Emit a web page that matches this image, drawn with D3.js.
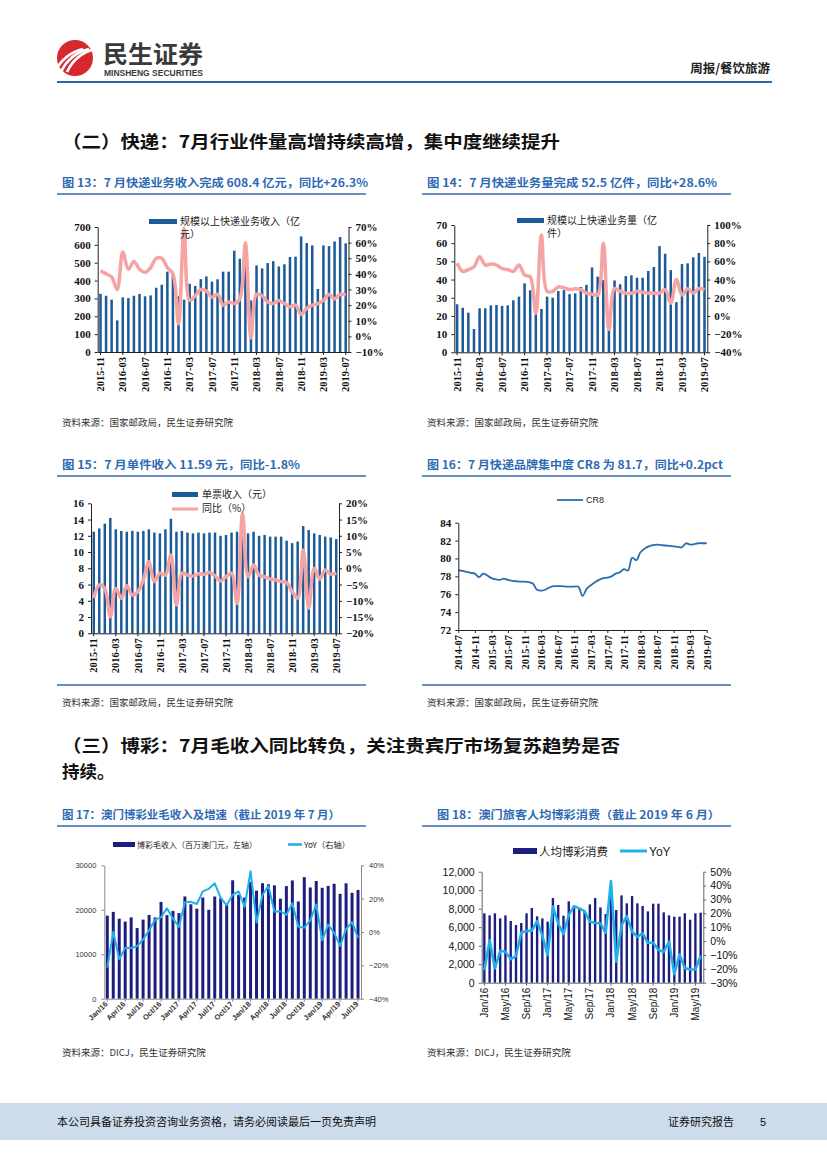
<!DOCTYPE html>
<html>
<head>
<meta charset="utf-8">
<script src="https://d3js.org/d3.v7.min.js"></script>
<style>
  body { margin: 0; background: #fff; }
  svg { display: block; }
</style>
</head>
<body>
<svg id="page" width="827" height="1169"></svg>
<script>
// ---------- data ----------
function monthList(y, m, n, fmt) {
  return d3.timeMonth.range(new Date(y, m - 1, 1), new Date(y, m - 1 + n, 1)).map(d3.timeFormat(fmt));
}
const expressMonths = monthList(2015, 11, 45, "%Y-%m");      // 2015-11 .. 2019-07
const cr8Months = monthList(2014, 7, 61, "%Y-%m");           // 2014-07 .. 2019-07
const ggrMonths = monthList(2016, 1, 43, "%b/%y");           // Jan/16 .. Jul/19
const spendMonths = monthList(2016, 1, 42, "%b/%y");         // Jan/16 .. Jun/19

// 图13 快递业务收入（亿元）及同比（%）
const revenue = [326, 315,
  293, 177, 306, 302, 315, 325, 312, 317, 360, 377, 450, 440,
  312, 293, 382, 370, 408, 423, 394, 407, 450, 450, 567, 522,
  500, 289, 485, 468, 498, 509, 479, 491, 532, 534, 647, 610,
  597, 353, 597, 593, 619, 644, 608.4];
const revenueYoy = [42, 40,
  38, 30, 54, 43, 48, 43, 41, 44, 50, 50, 44, 40,
  8, 69, 23, 26, 30, 29, 25, 27, 20, 22, 21, 24,
  60, -1, 27, 26, 22, 21, 23, 21, 19, 20, 14, 18,
  20, 21, 23, 27, 24, 27, 26.3];

// 图14 快递业务量（亿件）及同比（%）
const volume = [26.4, 24.5,
  21.8, 12.8, 24.2, 24.2, 25.8, 26.0, 25.5, 25.8, 28.6, 30.6, 37.9, 34.1,
  21.0, 23.8, 30.6, 30.0, 33.7, 34.2, 32.0, 32.4, 35.9, 37.1, 46.7, 41.6,
  39.7, 20.2, 39.5, 37.4, 41.9, 42.3, 41.0, 41.0, 44.7, 46.9, 58.4, 54.2,
  45.2, 27.6, 48.5, 48.9, 52.2, 54.6, 52.5];
const volumeYoy = [58, 49,
  51, 54, 65, 56, 57, 56, 52, 51, 49, 56, 45, 43,
  3, 89, 27, 27, 32, 31, 29, 30, 29, 25, 24, 23,
  80, -15, 30, 27, 25, 25, 27, 26, 25, 25, 25, 29,
  14, 40, 23, 30, 25, 30, 28.6];

// 图15 单票收入（元）及同比（%）
const unitRev = [12.5, 12.9,
  13.5, 14.2, 12.8, 12.6, 12.5, 12.6, 12.5, 12.6, 12.8, 12.4, 12.3, 12.8,
  14.1, 12.5, 12.6, 12.4, 12.3, 12.4, 12.3, 12.4, 12.4, 12.0, 12.1, 12.4,
  12.5, 14.3, 12.3, 12.5, 12.0, 12.1, 11.9, 11.9, 11.9, 11.4, 11.1, 11.3,
  13.2, 12.7, 12.3, 12.1, 11.9, 11.8, 11.59];
const unitRevYoy = [-9.2, -5.1,
  -6.2, -14.9, -6.2, -9.2, -5.4, -8.2, -7.2, -3.6, 2.0, -4.1, -1.5, -2.1,
  4.1, -11.3, -1.5, -2.1, -2.4, -1.7, -1.8, -1.3, -2.3, -3.9, -2.6, -1.5,
  -10.8, 16.9, -2.6, 1.0, -2.1, -2.6, -3.3, -3.6, -4.1, -4.4, -7.2, -9.2,
  5.6, -12.3, 0.0, -3.3, -0.5, -1.8, -1.5];

// 图16 CR8
const cr8 = [78.7, 78.6, 78.5, 78.4, 78.3, 77.9, 78.3, 78.1, 77.8, 77.65, 77.6, 77.75,
  77.6, 77.5, 77.45, 77.4, 77.4, 77.35, 77.2, 76.5, 76.4, 76.5, 76.75, 76.9,
  76.9, 76.9, 76.85, 76.85, 76.85, 76.85, 75.8, 76.6, 77.0, 77.35, 77.6, 77.8,
  77.85, 78.0, 78.3, 78.45, 78.8, 78.65, 80.1, 79.8, 80.7, 81.1, 81.35, 81.5,
  81.55, 81.5, 81.45, 81.4, 81.35, 81.3, 81.25, 81.7, 81.55, 81.6, 81.7, 81.7, 81.7];

// 图17 澳门博彩毛收入（百万澳门元）及同比（%）
const ggr = [18674, 19521, 17981, 17337, 18290, 15881, 17784, 18838, 18268, 21770, 18807, 19753,
  19255, 22994, 21230, 20246, 22750, 19990, 22975, 22687, 21196, 26627, 23383, 22742,
  26260, 24300, 25964, 25729, 25490, 22490, 25327, 26600, 21869, 27328, 25013, 26468,
  24942, 25370, 25840, 23588, 25952, 23812, 24453];
const ggrYoy = [-21.4, 0.1, -16.3, -9.5, -9.6, -8.5, -4.5, 1.1, 7.4, 8.8, 14.2, 8.0,
  3.1, 17.8, 18.1, 16.8, 24.4, 25.9, 29.2, 20.4, 16.0, 22.3, 24.3, 15.1,
  36.4, 5.7, 22.3, 27.6, 12.1, 12.5, 10.2, 17.2, 3.2, 2.6, 7.0, 16.5,
  -5.0, 4.4, -0.5, -8.3, 1.8, 5.9, -3.5];

// 图18 人均博彩消费（澳门元）及同比（%）
const spend = [7500, 7280, 7500, 6950, 7280, 6670, 6230, 6450, 7500, 8070, 7170, 6950,
  6600, 9150, 8400, 7240, 8790, 8290, 8040, 7750, 8470, 9150, 8140, 7420,
  9400, 7860, 9440, 8580, 9370, 8580, 8290, 7710, 8540, 8540, 7600, 7280,
  7140, 7140, 7500, 6810, 7500, 7570];
const spendYoy = [-21, 0.7, -19.7, -7, -7.7, -13, -10.8, 6.2, 7.2, 7.5, 14.4, 3.8,
  -10.1, 24.8, 12.7, 5, 18.8, 25.2, 23.6, 21.6, 13.9, 13.2, 12.7, 6,
  43.3, -14.9, 11.5, 18, 6.7, 3.1, 5.5, -1.2, -1.2, -6.5, -7.7, -0.5,
  -23.8, -9.6, -19.5, -20.5, -20.5, -10.5];

// ---------- drawing ----------
const SERIF = "'Liberation Serif','Times New Roman',serif";
const SANS = "'Liberation Sans',Arial,sans-serif";
const CJK = "'Noto Sans CJK SC','Noto Sans',sans-serif";
const TITLE_BLUE = "#2d6ab3";
const BAR_BLUE = "#1c5a98";
const PINK = "#f5a3a3";
const NAVY = "#1d1d80";
const CYAN = "#1eb0ea";

const svg = d3.select("#page");

function text(x, y, s, size, opts = {}) {
  const t = svg.append("text").attr("x", x).attr("y", y).text(s)
    .attr("font-family", opts.family || CJK)
    .attr("font-size", size)
    .attr("font-weight", opts.weight || "normal")
    .attr("fill", opts.fill || "#222");
  if (opts.anchor) t.attr("text-anchor", opts.anchor);
  if (opts.len) t.attr("textLength", opts.len).attr("lengthAdjust", "spacingAndGlyphs");
  return t;
}

// header
svg.append("circle").attr("cx", 75).attr("cy", 58).attr("r", 18).attr("fill", "#d7282f");
[-8, -2, 4].forEach(dx => {
  svg.append("path")
    .attr("d", `M${63 + dx},${72} C${68 + dx},${61} ${76 + dx},${53} ${91 + dx},${49}`)
    .attr("stroke", "#fff").attr("stroke-width", 2.8).attr("fill", "none");
});
text(103, 63, "民生证券", 24, { weight: "bold", fill: "#3a3a3a", len: 100 });
text(104, 76, "MINSHENG SECURITIES", 8.5, { family: SANS, weight: "bold", fill: "#3a3a3a", len: 99 });
text(770, 73, "周报/餐饮旅游", 12.5, { weight: "bold", anchor: "end", fill: "#222" });
svg.append("line").attr("x1", 57).attr("x2", 772).attr("y1", 82).attr("y2", 82)
  .attr("stroke", "#2c66a8").attr("stroke-width", 2);

// section headings
text(62, 148, "（二）快递：7月行业件量高增持续高增，集中度继续提升", 17.5, { weight: "bold", len: 498, fill: "#111" });
text(62, 752, "（三）博彩：7月毛收入同比转负，关注贵宾厅市场复苏趋势是否", 17.5, { weight: "bold", len: 558, fill: "#111" });
text(62, 778, "持续。", 17.5, { weight: "bold", fill: "#111" });

// chart titles + rules
function chartTitle(x, y, s, len, x1, x2) {
  text(x, y, s, 11, { weight: "bold", fill: TITLE_BLUE, len: len });
  svg.append("line").attr("x1", x1).attr("x2", x2).attr("y1", y + 7).attr("y2", y + 7)
    .attr("stroke", "#3569a8").attr("stroke-width", 1.3);
}
chartTitle(62, 187, "图 13：7 月快递业务收入完成 608.4 亿元，同比+26.3%", 306, 57, 366);
chartTitle(427, 187, "图 14：7 月快递业务量完成 52.5 亿件，同比+28.6%", 290, 422, 731);
chartTitle(62, 469, "图 15：7 月单件收入 11.59 元，同比-1.8%", 238, 57, 366);
chartTitle(427, 469, "图 16：7 月快递品牌集中度 CR8 为 81.7，同比+0.2pct", 296, 422, 731);
chartTitle(62, 819, "图 17：澳门博彩业毛收入及增速（截止 2019 年 7 月）", 278, 57, 366);
chartTitle(437, 819, "图 18：澳门旅客人均博彩消费（截止 2019 年 6 月）", 283, 422, 731);
[[57, 366, 685], [422, 731, 685]].forEach(([a, b, y]) => {
  svg.append("line").attr("x1", a).attr("x2", b).attr("y1", y).attr("y2", y)
    .attr("stroke", "#3569a8").attr("stroke-width", 1.3);
});

// sources
text(62, 426, "资料来源：国家邮政局，民生证券研究院", 9.5, { fill: "#333" });
text(427, 426, "资料来源：国家邮政局，民生证券研究院", 9.5, { fill: "#333" });
text(62, 706, "资料来源：国家邮政局，民生证券研究院", 9.5, { fill: "#333" });
text(427, 706, "资料来源：国家邮政局，民生证券研究院", 9.5, { fill: "#333" });
text(62, 1056, "资料来源：DICJ，民生证券研究院", 9.5, { fill: "#333" });
text(427, 1056, "资料来源：DICJ，民生证券研究院", 9.5, { fill: "#333" });

// footer
svg.append("rect").attr("x", 0).attr("y", 1103).attr("width", 827).attr("height", 37).attr("fill", "#cddcea");
text(57, 1126, "本公司具备证券投资咨询业务资格，请务必阅读最后一页免责声明", 11, { fill: "#111" });
text(668, 1126, "证券研究报告", 11, { fill: "#111" });
text(760, 1126, "5", 11, { fill: "#111", family: SANS });

function styleAxis(g, family, size, weight, color, labelColor) {
  g.select(".domain").attr("stroke", color || "#222").attr("stroke-width", 1);
  g.selectAll(".tick line").attr("stroke", color || "#222");
  g.selectAll(".tick text").attr("font-family", family).attr("font-size", size)
    .attr("font-weight", weight).attr("fill", labelColor || "#111");
}

// bar + line dual-axis chart
function barLine(o) {
  const g = svg.append("g");
  const x = d3.scaleBand().domain(o.cats).range([o.x0, o.x1])
    .paddingInner(o.pad).paddingOuter(o.pad / 2);
  const yL = d3.scaleLinear().domain(o.left).range([o.yb, o.yt]);
  const yR = d3.scaleLinear().domain(o.right).range([o.yb, o.yt]);

  g.selectAll("rect.bar").data(o.bars).join("rect").attr("class", "bar")
    .attr("x", (d, i) => x(o.cats[i]))
    .attr("width", x.bandwidth())
    .attr("y", d => yL(d))
    .attr("height", d => yL(0) - yL(d))
    .attr("fill", o.barColor);

  const line = d3.line()
    .x((d, i) => x(o.cats[i]) + x.bandwidth() / 2)
    .y(d => yR(d / 100))
    .curve(o.curve || d3.curveLinear);
  g.append("path").datum(o.line).attr("d", line)
    .attr("fill", "none").attr("stroke", o.lineColor).attr("stroke-width", o.lineWidth)
    .attr("stroke-linejoin", "round");

  const ax = g.append("g").attr("transform", `translate(0,${o.yb})`)
    .call(d3.axisBottom(x).tickValues(o.cats.filter((d, i) => i % o.every === 0))
      .tickSize(3).tickSizeOuter(0));
  styleAxis(ax, o.xFont, o.xSize, o.xWeight, o.axisColor, o.labelColor);
  if (o.rot === -90) {
    ax.selectAll(".tick text").attr("transform", "rotate(-90)")
      .attr("x", -5).attr("y", 0).attr("dy", "0.35em").attr("text-anchor", "end");
  } else {
    ax.selectAll(".tick text").attr("transform", "translate(-1,4) rotate(-45)")
      .attr("x", 0).attr("y", 0).attr("dy", "0.35em").attr("text-anchor", "end");
  }

  const al = g.append("g").attr("transform", `translate(${o.x0},0)`)
    .call(d3.axisLeft(yL).tickValues(o.leftTicks).tickSize(3).tickSizeOuter(0)
      .tickPadding(o.pL || 4).tickFormat(o.leftFmt));
  styleAxis(al, o.yFont, o.ySize, o.yWeight, o.axisColor, o.labelColor);
  const ar = g.append("g").attr("transform", `translate(${o.x1},0)`)
    .call(d3.axisRight(yR).tickValues(o.rightTicks).tickSize(3).tickSizeOuter(0)
      .tickPadding(o.pR || 4).tickFormat(d3.format(".0%")));
  styleAxis(ar, o.yFont, o.ySize, o.yWeight, o.axisColor, o.labelColor);
  return g;
}

const serifAxis = { xFont: SERIF, xSize: 10.5, xWeight: "bold", yFont: SERIF, ySize: 11, yWeight: "bold", rot: -90, every: 4 };

// 图13
barLine(Object.assign({}, serifAxis, {
  cats: expressMonths, bars: revenue, line: revenueYoy,
  x0: 97.7, x1: 348.5, yb: 352, yt: 227, pad: 0.55,
  left: [0, 700], leftTicks: d3.range(0, 701, 100), leftFmt: d3.format("d"),
  right: [-0.1, 0.7], rightTicks: d3.range(-0.1, 0.71, 0.1),
  barColor: BAR_BLUE, lineColor: PINK, lineWidth: 3.5, curve: d3.curveCatmullRom.alpha(0.5)
}));
svg.append("rect").attr("x", 149).attr("y", 219).attr("width", 28).attr("height", 5).attr("fill", BAR_BLUE);
text(180, 225, "规模以上快递业务收入（亿", 10, { fill: "#222" });
text(180, 238, "元）", 10, { fill: "#222" });

// 图14
barLine(Object.assign({}, serifAxis, {
  cats: expressMonths, bars: volume, line: volumeYoy,
  x0: 454.3, x1: 707.3, yb: 352.3, yt: 225, pad: 0.55,
  left: [0, 70], leftTicks: d3.range(0, 71, 10), leftFmt: d3.format("d"),
  right: [-0.4, 1.0], rightTicks: d3.range(-0.4, 1.01, 0.2),
  barColor: BAR_BLUE, lineColor: PINK, lineWidth: 3.5, curve: d3.curveCatmullRom.alpha(0.5)
}));
svg.append("rect").attr("x", 517).attr("y", 218).attr("width", 27).attr("height", 5).attr("fill", BAR_BLUE);
text(547, 224, "规模以上快递业务量（亿", 10, { fill: "#222" });
text(547, 237, "件）", 10, { fill: "#222" });

// 图15
barLine(Object.assign({}, serifAxis, {
  cats: expressMonths, bars: unitRev, line: unitRevYoy,
  x0: 91, x1: 339, yb: 633.3, yt: 503.3, pad: 0.55,
  left: [0, 16], leftTicks: d3.range(0, 17, 2), leftFmt: d3.format("d"),
  right: [-0.2, 0.2], rightTicks: d3.range(-0.2, 0.201, 0.05),
  barColor: BAR_BLUE, lineColor: PINK, lineWidth: 3.5, curve: d3.curveCatmullRom.alpha(0.5)
}));
svg.append("rect").attr("x", 172).attr("y", 492).attr("width", 26).attr("height", 5).attr("fill", BAR_BLUE);
text(202, 498, "单票收入（元）", 10, { fill: "#222" });
svg.append("line").attr("x1", 172).attr("x2", 198).attr("y1", 509).attr("y2", 509)
  .attr("stroke", PINK).attr("stroke-width", 3);
text(202, 512, "同比（%）", 10, { fill: "#222" });

// 图16 CR8 line
{
  const g = svg.append("g");
  const x = d3.scalePoint().domain(cr8Months).range([458.3, 706.7]);
  const y = d3.scaleLinear().domain([72, 84]).range([630, 522.7]);
  g.append("path").datum(cr8)
    .attr("d", d3.line().x((d, i) => x(cr8Months[i])).y(d => y(d)).curve(d3.curveCatmullRom.alpha(0.5)))
    .attr("fill", "none").attr("stroke", "#2b6cb0").attr("stroke-width", 1.8);
  const ax = g.append("g").attr("transform", "translate(0,630)")
    .call(d3.axisBottom(x).tickValues(cr8Months.filter((d, i) => i % 4 === 0)).tickSize(3).tickSizeOuter(0));
  styleAxis(ax, SERIF, 10.5, "bold");
  ax.selectAll(".tick text").attr("transform", "rotate(-90)")
    .attr("x", -5).attr("y", 0).attr("dy", "0.35em").attr("text-anchor", "end");
  const ay = g.append("g").attr("transform", "translate(458.3,0)")
    .call(d3.axisLeft(y).tickValues(d3.range(72, 85, 2)).tickSize(3).tickSizeOuter(0).tickPadding(4));
  styleAxis(ay, SERIF, 11, "bold");
  svg.append("line").attr("x1", 557).attr("x2", 583).attr("y1", 500).attr("y2", 500)
    .attr("stroke", "#2b6cb0").attr("stroke-width", 1.8);
  text(586, 503, "CR8", 9, { family: SANS, fill: "#222" });
}

// 图17
barLine({
  cats: ggrMonths, bars: ggr, line: ggrYoy,
  x0: 104.3, x1: 361, yb: 998.7, yt: 865.3, pad: 0.5,
  left: [0, 30000], leftTicks: d3.range(0, 30001, 10000), leftFmt: d3.format("d"),
  right: [-0.4, 0.4], rightTicks: d3.range(-0.4, 0.41, 0.2),
  barColor: NAVY, lineColor: CYAN, lineWidth: 2,
  xFont: SANS, xSize: 7.5, xWeight: "bold", yFont: SANS, ySize: 7.5, yWeight: "normal",
  axisColor: "#8a8a8a", labelColor: "#333",
  rot: -45, every: 3, pL: 5, pR: 5
});
svg.append("rect").attr("x", 113).attr("y", 842).attr("width", 22).attr("height", 5).attr("fill", NAVY);
text(137, 848, "博彩毛收入（百万澳门元，左轴）", 8, { fill: "#222", len: 120 });
svg.append("line").attr("x1", 288).attr("x2", 302).attr("y1", 844.5).attr("y2", 844.5)
  .attr("stroke", CYAN).attr("stroke-width", 2.5);
text(304, 848, "YoY（右轴）", 8, { fill: "#222", len: 46 });

// 图18
barLine({
  cats: spendMonths, bars: spend, line: spendYoy,
  x0: 481.7, x1: 703.3, yb: 982.7, yt: 871.7, pad: 0.55,
  left: [0, 12000], leftTicks: d3.range(0, 12001, 2000), leftFmt: d3.format(","),
  right: [-0.3, 0.5], rightTicks: d3.range(-0.3, 0.501, 0.1),
  barColor: NAVY, lineColor: CYAN, lineWidth: 2.6,
  xFont: SANS, xSize: 10, xWeight: "normal", yFont: SANS, ySize: 10.5, yWeight: "normal",
  axisColor: "#666", labelColor: "#111",
  rot: -90, every: 4, pL: 4, pR: 4
});
svg.append("rect").attr("x", 513).attr("y", 848).attr("width", 24).attr("height", 6).attr("fill", NAVY);
text(539, 856, "人均博彩消费", 11.5, { fill: "#222" });
svg.append("line").attr("x1", 620).attr("x2", 647).attr("y1", 851).attr("y2", 851)
  .attr("stroke", CYAN).attr("stroke-width", 3);
text(649, 856, "YoY", 12, { family: SANS, fill: "#222" });
</script>
</body>
</html>
